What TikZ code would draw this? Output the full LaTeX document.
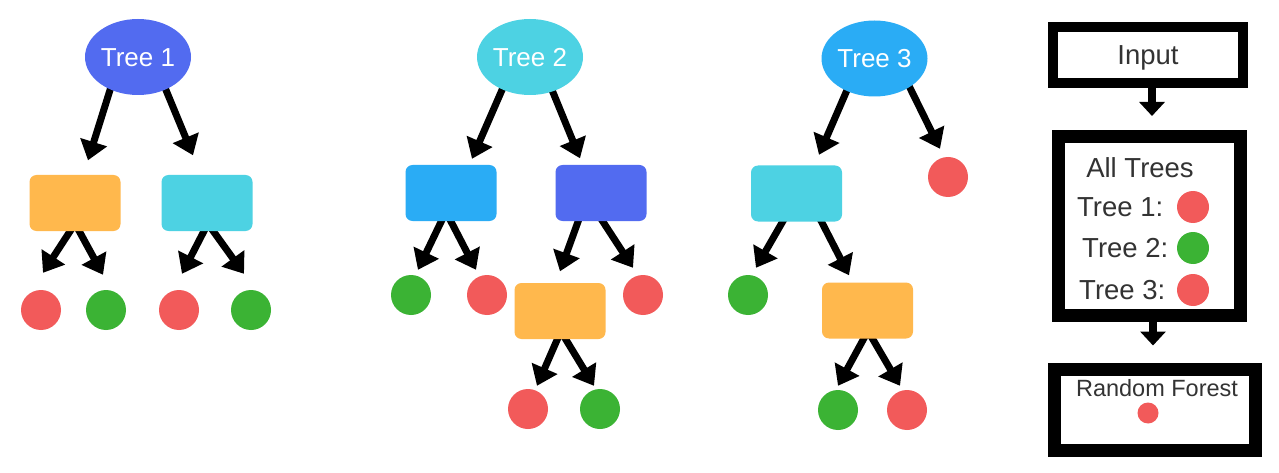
\documentclass[tikz,border=0pt]{standalone}
\usepackage{fontspec}
\setmainfont{Liberation Sans}
\usetikzlibrary{shapes.geometric,arrows.meta,backgrounds}
\definecolor{cblue}{RGB}{82,107,240}
\definecolor{ccyan}{RGB}{77,210,227}
\definecolor{csky}{RGB}{42,172,245}
\definecolor{corange}{RGB}{255,184,77}
\definecolor{cred}{RGB}{242,90,90}
\definecolor{cgreen}{RGB}{59,179,52}
\definecolor{ctext}{RGB}{51,51,51}
\begin{document}
\begin{tikzpicture}[x=1pt,y=-1pt,
  ell/.style={ellipse, fill=#1, minimum width=106pt, minimum height=76pt, inner sep=0pt,
    text=white, font=\fontsize{26}{30}\selectfont, text height=18.7pt, text depth=0pt},
  rbox/.style={rectangle, fill=#1, rounded corners=7pt, minimum width=91pt, minimum height=56pt, inner sep=0pt},
  dot/.style={circle, fill=#1, minimum size=40pt, inner sep=0pt},
  arr/.style={line width=7pt, -{Triangle[width=27pt,length=19pt]}},
  arrv/.style={line width=8pt, -{Triangle[width=25pt,length=14pt]}},
  frame/.style={draw=black, fill=white, rectangle, inner sep=0pt},
  lbl/.style={text=ctext, inner sep=0pt, font=\fontsize{27.5}{30}\selectfont},
]
\useasboundingbox (0,0) rectangle (1279,473);

% Tree 1
\node[ell=cblue] (t1) at (138,57) {Tree 1};
\node[rbox=corange] (r1) at (75,203) {};
\node[rbox=ccyan] (r2) at (207,203) {};
\node[dot=cred] (c11) at (41,310) {};
\node[dot=cgreen] (c12) at (106,310) {};
\node[dot=cred] (c13) at (179,310) {};
\node[dot=cgreen] (c14) at (251,310) {};

% Tree 2
\node[ell=ccyan] (t2) at (530,57) {Tree 2};
\node[rbox=csky] (b21) at (451,193) {};
\node[rbox=cblue] (b22) at (601,193) {};
\node[dot=cgreen] (c21) at (411,295) {};
\node[dot=cred] (c22) at (487,295) {};
\node[rbox=corange] (o2) at (560,311) {};
\node[dot=cred] (c23) at (643,295) {};
\node[dot=cred] (c24) at (528,409) {};
\node[dot=cgreen] (c25) at (600,409) {};

% Tree 3
\node[ell=csky] (t3) at (874.5,58.5) {Tree 3};
\node[dot=cred] (c31) at (948,177) {};
\node[rbox=ccyan] (b31) at (796.5,193.5) {};
\node[dot=cgreen] (c32) at (748,295) {};
\node[rbox=corange] (o3) at (867.5,310.5) {};
\node[dot=cgreen] (c33) at (838,410) {};
\node[dot=cred] (c34) at (907,410) {};

% Right column
\node[frame, line width=10pt, minimum width=190pt, minimum height=56pt,
  text=ctext, font=\fontsize{27.5}{30}\selectfont, text height=19.8pt, text depth=0pt] (inp) at (1148,55) {Input};
\node[frame, line width=13pt, minimum width=182pt, minimum height=179pt] (all) at (1149.5,226) {};
\node[frame, line width=13pt, minimum width=201pt, minimum height=81pt] (rf) at (1155,410) {};
\node[lbl] (allt) at (1140,168) {All Trees};
\node[lbl, anchor=west] (l1) at (1077,207) {Tree 1:};
\node[lbl, anchor=west] (l2) at (1082,248) {Tree 2:};
\node[lbl, anchor=west] (l3) at (1079,290) {Tree 3:};
\node[dot=cred, minimum size=32pt] (d1) at (1193,207) {};
\node[dot=cgreen, minimum size=32pt] (d2) at (1193,248) {};
\node[dot=cred, minimum size=32pt] (d3) at (1193,290) {};
\node[lbl, font=\fontsize{23.5}{26}\selectfont] (rft) at (1157,388) {Random Forest};
\node[dot=cred, minimum size=21pt] (d4) at (1148,413) {};

\begin{scope}[on background layer]
\fill[white] (0,0) rectangle (1279,473);
% Tree 1
\draw[arr] ([xshift=-25.6pt,yshift=-25.4pt]t1.center) -- ([xshift=13pt,yshift=14.5pt]r1.north);
\draw[arr] ([xshift=24.9pt,yshift=-25.6pt]t1.center) -- ([xshift=-14pt,yshift=19.5pt]r2.north);
\draw[arr] ([xshift=-1pt,yshift=6pt]r1.south) -- ([xshift=2pt,yshift=17pt]c11.north);
\draw[arr] ([xshift=1pt,yshift=6pt]r1.south) -- ([xshift=-3pt,yshift=15pt]c12.north);
\draw[arr] ([xshift=0pt,yshift=6pt]r2.south) -- ([xshift=3pt,yshift=16pt]c13.north);
\draw[arr] ([xshift=2pt,yshift=6pt]r2.south) -- ([xshift=-7pt,yshift=16pt]c14.north);
% Tree 2
\draw[arr] ([xshift=-24.8pt,yshift=-25.6pt]t2.center) -- ([xshift=21pt,yshift=6pt]b21.north);
\draw[arr] ([xshift=19pt,yshift=-25.6pt]t2.center) -- ([xshift=-21pt,yshift=6.5pt]b22.north);
\draw[arr] ([xshift=-7pt,yshift=5.5pt]b21.south) -- ([xshift=7pt,yshift=5pt]c21.north);
\draw[arr] ([xshift=-3pt,yshift=5.5pt]b21.south) -- ([xshift=-11pt,yshift=5pt]c22.north);
\draw[arr] ([xshift=-21pt,yshift=5pt]b22.south) -- ([xshift=0pt,yshift=11.5pt]o2.north);
\draw[arr] ([xshift=-1.3pt,yshift=4.5pt]b22.south) -- ([xshift=-10pt,yshift=7pt]c23.north);
\draw[arr] ([xshift=0pt,yshift=6pt]o2.south) -- ([xshift=9pt,yshift=3pt]c24.north);
\draw[arr] ([xshift=2pt,yshift=6pt]o2.south) -- ([xshift=-6pt,yshift=3pt]c25.north);
% Tree 3
\draw[arr] ([xshift=-24.3pt,yshift=-24.2pt]t3.center) -- ([xshift=22.5pt,yshift=10.5pt]b31.north);
\draw[arr] ([xshift=32pt,yshift=-22.3pt]t3.center) -- ([xshift=-8pt,yshift=8pt]c31.north);
\draw[arr] ([xshift=-11.5pt,yshift=4.2pt]b31.south) -- ([xshift=8pt,yshift=7pt]c32.north);
\draw[arr] ([xshift=22.8pt,yshift=4.3pt]b31.south) -- ([xshift=-18.5pt,yshift=7pt]o3.north);
\draw[arr] ([xshift=-0.5pt,yshift=6pt]o3.south) -- ([xshift=0pt,yshift=4pt]c33.north);
\draw[arr] ([xshift=1.5pt,yshift=6pt]o3.south) -- ([xshift=-7pt,yshift=4pt]c34.north);
% Right column
\draw[arrv] ([xshift=4pt]inp.south) -- ([xshift=2.5pt,yshift=14pt]all.north);
\draw[arrv] ([xshift=3.5pt]all.south) -- ([xshift=-2pt,yshift=17.5pt]rf.north);
\end{scope}
\end{tikzpicture}
\end{document}
